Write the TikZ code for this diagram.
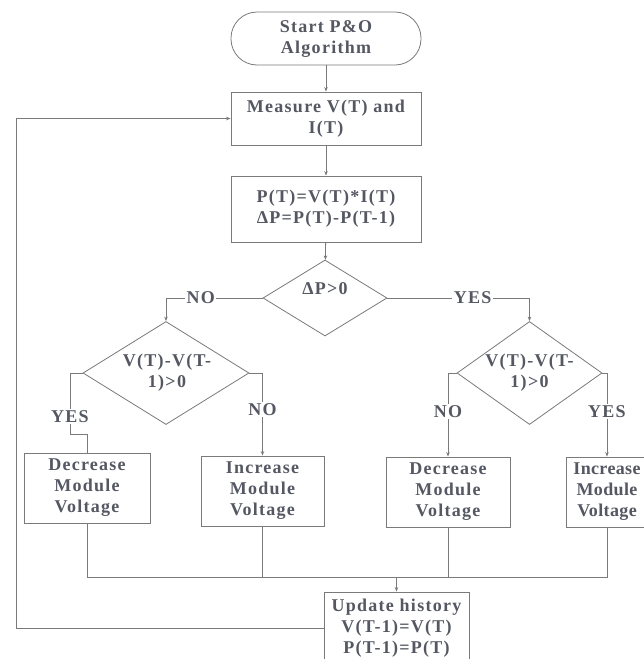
\documentclass[tikz,border=0pt]{standalone}
\usepackage{fontspec}
\setmainfont{Liberation Serif}[LetterSpace=7]
\usetikzlibrary{shapes.geometric,arrows.meta}
\definecolor{linec}{HTML}{7A7A7A}
\definecolor{txtc}{HTML}{555862}
\newcommand\nodefont{\fontsize{18}{21}\selectfont\bfseries}
\begin{document}
\begin{tikzpicture}[x=1pt,y=-1pt,
  proc/.style={draw=linec, line width=0.8pt, rectangle, inner sep=0pt, align=center, text=txtc, font=\nodefont},
  term/.style={proc, rounded corners=26pt},
  dia/.style={draw=linec, line width=0.8pt, diamond, inner sep=0pt},
  txt/.style={align=center, text=txtc, font=\nodefont, inner sep=0pt},
  lbl/.style={fill=white, text=txtc, font=\nodefont, inner sep=1.5pt},
  conn/.style={draw=linec, line width=0.8pt},
  arr/.style={-{Stealth[length=4.5pt,width=3.5pt]}}]
\useasboundingbox (0,0) rectangle (644,659);
\clip (0,0) rectangle (644,659);
\fill[white] (0,0) rectangle (644,659);

\node[term, minimum width=190pt, minimum height=53pt] (start) at (326,38.5) {Start P\&O\\Algorithm};
\node[proc, minimum width=190pt, minimum height=53pt] (meas) at (326,118.5) {Measure V(T) and\\I(T)};
\node[proc, minimum width=190pt, minimum height=66pt] (pow) at (326,209) {P(T)=V(T)*I(T)\\ΔP=P(T)-P(T-1)};

\node[dia, minimum width=124pt, minimum height=76pt] (d1) at (325,298) {};
\node[txt] (t1) at (325,289) {ΔP>0};

\node[dia, minimum width=166pt, minimum height=103pt] (d2) at (166,373) {};
\node[txt] (t2) at (167,373) {V(T)-V(T-\\1)>0};
\node[dia, minimum width=145pt, minimum height=103pt] (d3) at (529.5,373) {};
\node[txt] (t3) at (529.5,373) {V(T)-V(T-\\1)>0};

\node[proc, minimum width=126pt, minimum height=70pt] (dec1) at (87,488) {Decrease\\Module\\Voltage};
\node[proc, minimum width=123pt, minimum height=70pt] (inc1) at (262.5,491) {Increase\\Module\\Voltage};
\node[proc, minimum width=124pt, minimum height=70pt] (dec2) at (448,492) {Decrease\\Module\\Voltage};
\node[proc, minimum width=82pt, minimum height=70pt, font=\nodefont\addfontfeature{LetterSpace=2}] (inc2) at (607,492) {Increase\\Module\\Voltage};

\node[proc, minimum width=145pt, minimum height=72pt] (upd) at (396.5,628) {Update history\\V(T-1)=V(T)\\P(T-1)=P(T)};

\draw[conn,arr] (start) -- (meas);
\draw[conn,arr] (meas) -- (pow);
\draw[conn,arr] (pow) -- (d1);

\draw[conn,arr] (d1.west) -| node[lbl,pos=0.32]{NO} (d2.north);
\draw[conn,arr] (d1.east) -| node[lbl,pos=0.30]{YES} (d3.north);

\draw[conn] (d2.west) -- (70,373) -- node[lbl,pos=0.72]{YES} (70,434) -- (87,434) -- (dec1.north);
\draw[conn,arr] (d2.east) -| node[lbl,pos=0.72]{NO} (inc1.north);
\draw[conn,arr] (d3.west) -| node[lbl,pos=0.73]{NO} (dec2.north);
\draw[conn,arr] (d3.east) -| node[lbl,pos=0.73]{YES} (inc2.north);

\coordinate (m) at (396.5,577);
\draw[conn] (dec1.south) |- (m);
\draw[conn] (inc1.south) |- (m);
\draw[conn] (dec2.south) |- (m);
\draw[conn] (inc2.south) |- (m);
\draw[conn,arr] (m) -- (upd);

\draw[conn,arr] (upd.west) -- (16,628) |- (meas.west);
\end{tikzpicture}
\end{document}
